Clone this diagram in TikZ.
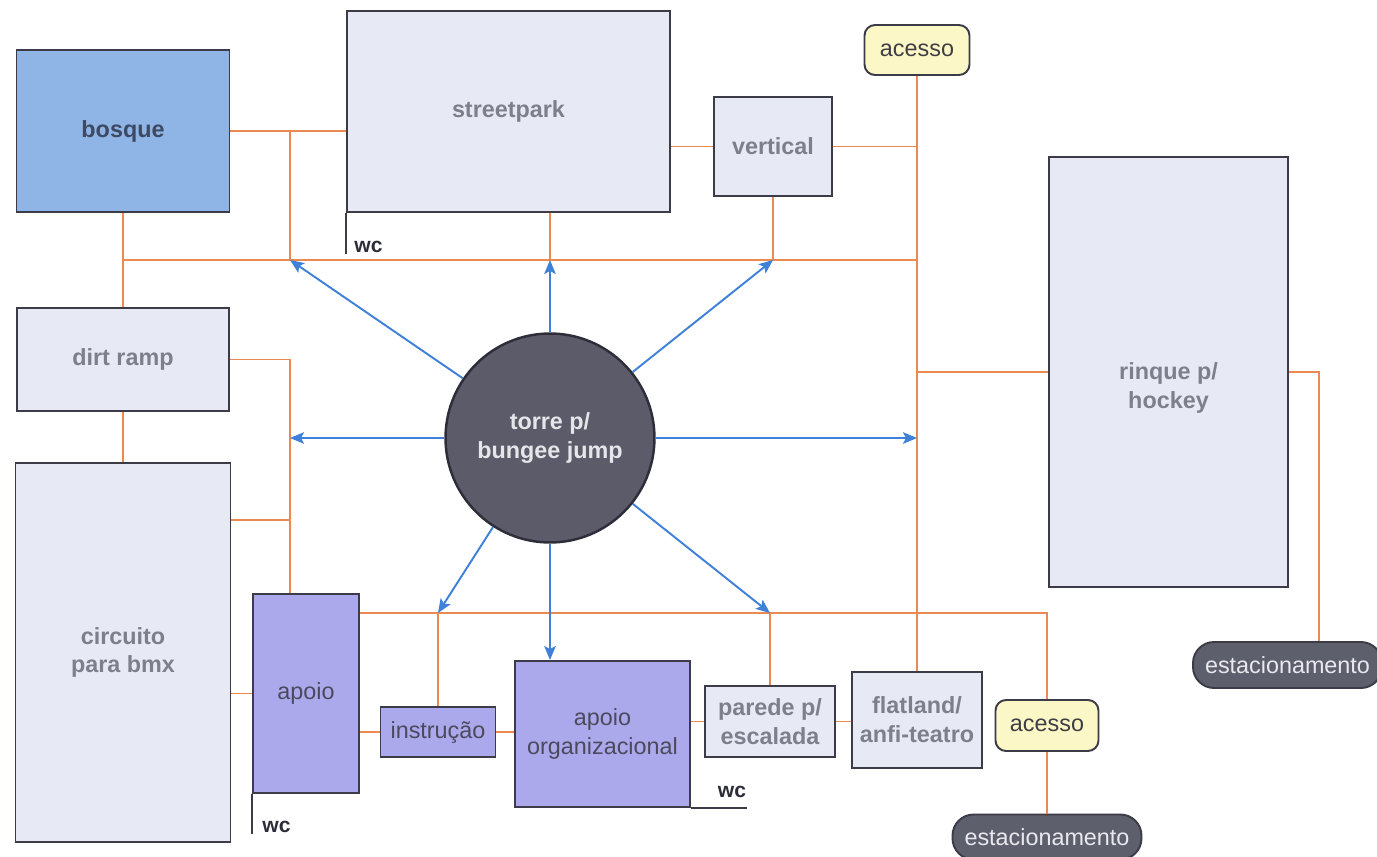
\documentclass[tikz,border=0pt]{standalone}
\usepackage{fontspec}
\setmainfont{Liberation Sans}
\usetikzlibrary{arrows.meta}

\begin{document}
\begin{tikzpicture}[
    x=0.02cm, y=-0.02cm,
    area/.style = {
        draw=edgeC, line width=1.1pt, fill=areaC, text=labelC, inner sep=0pt,
        align=center, font=\bfseries\fontsize{13.3}{16.4}\selectfont
    },
    support/.style = {area, fill=supportC, text=supportT, font=\fontsize{13.3}{16.4}\selectfont},
    gate/.style = {area, rounded corners=6pt, fill=gateC, text=gateT, font=\fontsize{13.3}{16.4}\selectfont},
    park/.style = {
        draw=edgeC, line width=1.1pt, fill=parkC, text=parkT, inner sep=0pt,
        rounded corners=12pt, font=\fontsize{13.3}{16.4}\selectfont
    },
    tower/.style = {
        draw=towerE, line width=1.4pt, fill=towerC, text=towerT, circle, inner sep=0pt,
        align=center, font=\bfseries\fontsize{13.3}{16.4}\selectfont
    },
    link/.style = {draw=linkC, line width=1pt},
    spoke/.style = {draw=spokeC, line width=1.1pt, -{Stealth[length=2.8mm, width=2.3mm, inset=0.6mm]}},
    wcline/.style = {draw=edgeC, line width=1pt},
    wclabel/.style = {text=wcT, inner sep=0pt, font=\bfseries\fontsize{12}{14}\selectfont}
]
    % Colours of the plan
    \definecolor{edgeC}{HTML}{3C3C48}
    \definecolor{areaC}{HTML}{E7EAF4}
    \definecolor{labelC}{HTML}{7D7F8C}
    \definecolor{bosqueC}{HTML}{8FB4E6}
    \definecolor{bosqueT}{HTML}{3D4A63}
    \definecolor{supportC}{HTML}{ABA8EC}
    \definecolor{supportT}{HTML}{4B4A5C}
    \definecolor{gateC}{HTML}{FCF7C6}
    \definecolor{gateT}{HTML}{3E3E44}
    \definecolor{parkC}{HTML}{5E5F6D}
    \definecolor{parkT}{HTML}{E8E8EE}
    \definecolor{towerC}{HTML}{5B5B69}
    \definecolor{towerE}{HTML}{2E2E3A}
    \definecolor{towerT}{HTML}{E6E6EA}
    \definecolor{linkC}{HTML}{EA8A50}
    \definecolor{spokeC}{HTML}{3F80D8}
    \definecolor{wcT}{HTML}{2D2D3A}

    \useasboundingbox (0,0) rectangle (1377,856);

    % Areas
    \node[area, fill=bosqueC, text=bosqueT, minimum width=4.26cm, minimum height=3.24cm] (bosque) at (123,131) {bosque};
    \node[area, minimum width=6.46cm, minimum height=4.02cm] (streetpark) at (508.5,111.5) {streetpark};
    \node[area, minimum width=2.36cm, minimum height=1.98cm] (vertical) at (773,146.5) {vertical};
    \node[gate, minimum width=2.10cm, minimum height=1.00cm] (acessoN) at (917,50) {acesso};
    \node[area, minimum width=4.24cm, minimum height=2.06cm] (dirt) at (123,359.5) {dirt ramp};
    \node[area, minimum width=4.30cm, minimum height=7.58cm] (bmx) at (123,652.5) {circuito\\para bmx};
    \node[support, minimum width=2.12cm, minimum height=3.98cm] (apoio) at (306,693.5) {apoio};
    \node[support, minimum width=2.30cm, minimum height=1.00cm] (instrucao) at (438,732) {instrução};
    \node[support, minimum width=3.50cm, minimum height=2.92cm] (org) at (602.5,734) {apoio\\organizacional};
    \node[area, minimum width=2.60cm, minimum height=1.42cm] (parede) at (770,721.5) {parede p/\\escalada};
    \node[area, minimum width=2.60cm, minimum height=1.92cm] (flatland) at (917,720) {flatland/\\anfi-teatro};
    \node[gate, minimum width=2.06cm, minimum height=1.02cm] (acessoS) at (1047,725.5) {acesso};
    \node[area, minimum width=4.78cm, minimum height=8.60cm,
          label={[area, draw=none, fill=none, yshift=-0.32cm]center:rinque p/\\hockey}] (rinque) at (1168.5,372) {};
    \node[park, minimum width=3.78cm, minimum height=0.92cm] (parkE) at (1287.5,665) {estacionamento};
    \node[park, minimum width=3.78cm, minimum height=0.90cm] (parkS) at (1047,837) {estacionamento};
    \node[tower, minimum size=4.18cm] (torre) at (550,438) {torre p/\\bungee jump};

    % Junctions on the paths
    \coordinate (jBosque) at (290,260);
    \coordinate (jStreet) at (550,260);
    \coordinate (jVert) at (773,260);
    \coordinate (jEast) at (917,260);
    \coordinate (jWest) at (290,438);
    \coordinate (jRight) at (917,438);
    \coordinate (jInstr) at (438,613);
    \coordinate (jParede) at (770,613);
    \coordinate (jAcesso) at (1047,613);
    \coordinate (jBmx) at (290,520);
    \coordinate (jRink) at (1319,372);

    % Paths (orange)
    \draw[link] (bosque.south) -- (dirt.north);
    \draw[link] (dirt.south) -- (bmx.north);
    \draw[link] (bosque.south |- jBosque) -- (jEast);
    \draw[link] (bosque.east) -- (bosque.east -| streetpark.west);
    \draw[link] (bosque.east -| jBosque) -- (jBosque);
    \draw[link] (streetpark.south -| jStreet) -- (jStreet);
    \draw[link] (streetpark.east |- vertical.west) -- (vertical.west);
    \draw[link] (vertical.east) -- (vertical.east -| acessoN.south);
    \draw[link] (vertical.south) -- (jVert);
    \draw[link] (acessoN.south) -- (flatland.north);
    \draw[link] (rinque.west -| acessoN.south) -- (rinque.west);
    \draw[link] (dirt.east) -- (dirt.east -| jBosque) -- (jBosque |- apoio.north);
    \draw[link] (bmx.east |- jBmx) -- (jBmx);
    \draw[link] (bmx.east |- apoio.west) -- (apoio.west);
    \draw[link] (apoio.east |- jInstr) -- (jAcesso) -- (acessoS.north);
    \draw[link] (jInstr) -- (instrucao.north);
    \draw[link] (jParede) -- (parede.north);
    \draw[link] (apoio.east |- instrucao.west) -- (instrucao.west);
    \draw[link] (instrucao.east) -- (instrucao.east -| org.west);
    \draw[link] (org.east |- parede.west) -- (parede.west);
    \draw[link] (parede.east) -- (parede.east -| flatland.west);
    \draw[link] (acessoS.south) -- (parkS.north);
    \draw[link] (rinque.east) -- (jRink) -- (jRink |- parkE.north);

    % Spokes from the tower (blue)
    \foreach \t in {jBosque, jStreet, jVert, jWest, jRight, jInstr, jParede}
        \draw[spoke] (torre) -- (\t);
    \draw[spoke] (torre) -- (org.north -| torre);

    % wc marks
    \draw[wcline] (streetpark.south west) -- ++(0,41);
    \node[wclabel, anchor=west] (wcStreet) at (354,247) {wc};
    \draw[wcline] (apoio.south west) -- ++(0,40);
    \node[wclabel, anchor=west] (wcApoio) at (262,827) {wc};
    \draw[wcline] (org.south east) -- ++(56,0);
    \node[wclabel] (wcOrg) at (732,792) {wc};
\end{tikzpicture}
\end{document}
